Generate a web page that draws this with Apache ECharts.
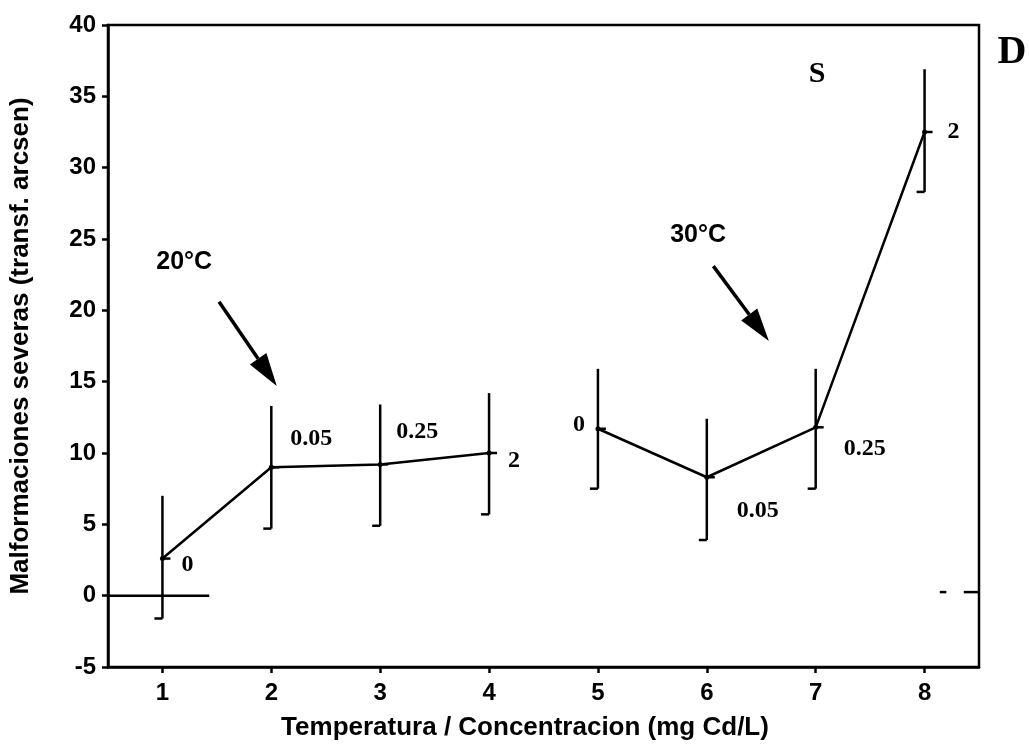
<!DOCTYPE html>
<html>
<head>
<meta charset="utf-8">
<style>
  html, body { margin: 0; padding: 0; background: #fff; }
  #chart { width: 1029px; height: 746px; }
</style>
<script src="https://cdn.jsdelivr.net/npm/echarts@6/dist/echarts.min.js"></script>
</head>
<body>
<div id="chart"></div>
<script>
// Treatment positions on the x axis (20 °C: 1-4, 30 °C: 5-8)
const positions = [1, 2, 3, 4, 5, 6, 7, 8];
// Mean of severe malformations (arcsine-transformed) and error-bar limits
const means = [2.6, 9.0, 9.2, 10.0, 11.7, 8.3, 11.8, 32.5];
const lows  = [-1.6, 4.7, 4.9, 5.7, 7.5, 3.9, 7.5, 28.3];
const highs = [7.0, 13.3, 13.4, 14.2, 15.9, 12.4, 15.9, 36.9];
// Cadmium concentration (mg Cd/L) written next to each mean
const doseLabels = ['0', '0.05', '0.25', '2', '0', '0.05', '0.25', '2'];
// Which temperature group each point belongs to
const group20 = [0, 1, 2, 3];
const group30 = [4, 5, 6, 7];
// Y tick settings
const yMin = -5, yMax = 40, yStep = 5;

// Arrow annotations (data coordinates) and their temperature captions
const arrowStart = [[1.52, 20.6], [6.06, 23.1]];
const arrowEnd   = [[2.05, 14.7], [6.57, 17.85]];
const arrowText  = ['20°C', '30°C'];
const arrowTextAt = [[1.20, 23.4], [5.92, 25.3]];

// Zero reference segments [x0, y0, x1, y1]
const refSegments = [[0.5, 0, 1.43, 0], [8.14, 0.25, 8.20, 0.25], [8.36, 0.25, 8.5, 0.25]];

// Pixel offsets of each concentration label from its mean
const doseLabelOffsets = [[25, 6], [40, -28], [37, -33], [25, 8], [-19, -4], [51, 34], [49, 21], [29, 0]];

const SANS = '"Liberation Sans", Arial, Helvetica, sans-serif';
const SERIF = '"Liberation Serif", "Times New Roman", serif';
const ink = '#000';

const chart = echarts.init(document.getElementById('chart'), null, { renderer: 'canvas' });

const lineStyle = { stroke: ink, lineWidth: 2.5 };

function meanLine(idx) {
  return {
    type: 'line',
    data: idx.map(i => [positions[i], means[i]]),
    symbol: 'circle',
    symbolSize: 5,
    itemStyle: { color: ink },
    lineStyle: { color: ink, width: 2.5 },
    silent: true,
    animation: false,
    z: 3
  };
}

const option = {
  animation: false,
  backgroundColor: '#fff',
  grid: {
    left: 108, right: 50, top: 25, bottom: 79,
    show: true, borderColor: ink, borderWidth: 2.5, backgroundColor: 'transparent'
  },
  xAxis: {
    type: 'value',
    min: 0.5,
    max: 8.5,
    name: 'Temperatura / Concentracion (mg Cd/L)',
    nameLocation: 'middle',
    nameGap: 48,
    nameTextStyle: { color: ink, fontFamily: SANS, fontWeight: 'bold', fontSize: 26, padding: [0, 37, 0, 0] },
    axisLine: { onZero: false, lineStyle: { color: ink, width: 2.5 } },
    axisTick: { show: true, length: 6, customValues: positions, lineStyle: { color: ink, width: 2.5 } },
    axisLabel: { customValues: positions, color: ink, fontFamily: SANS, fontWeight: 'bold', fontSize: 24, margin: 14 },
    splitLine: { show: false }
  },
  yAxis: {
    type: 'value',
    min: yMin,
    max: yMax,
    interval: yStep,
    name: 'Malformaciones severas (transf. arcsen)',
    nameLocation: 'middle',
    nameGap: 74,
    nameTextStyle: { color: ink, fontFamily: SANS, fontWeight: 'bold', fontSize: 26 },
    axisLine: { show: true, onZero: false, lineStyle: { color: ink, width: 2.5 } },
    axisTick: { show: true, length: 6, lineStyle: { color: ink, width: 2.5 } },
    axisLabel: { color: ink, fontFamily: SANS, fontWeight: 'bold', fontSize: 24, margin: 12 },
    splitLine: { show: false }
  },
  graphic: [
    { type: 'text', x: 1012, y: 53, style: { text: 'D', font: 'bold 40px ' + SERIF, fill: ink, align: 'center', verticalAlign: 'middle' } },
    { type: 'text', x: 817, y: 74, style: { text: 'S', font: 'bold 30px ' + SERIF, fill: ink, align: 'center', verticalAlign: 'middle' } }
  ],
  series: [
    meanLine(group20),
    meanLine(group30),
    {
      // Error bars: vertical range, left cap at the bottom, short tick at the mean
      type: 'custom',
      data: positions.map((x, i) => [x, means[i], lows[i], highs[i]]),
      clip: false,
      silent: true,
      z: 4,
      renderItem: function (params, api) {
        const x = api.value(0);
        const m = api.coord([x, api.value(1)]);
        const lo = api.coord([x, api.value(2)]);
        const hi = api.coord([x, api.value(3)]);
        const off = doseLabelOffsets[params.dataIndex];
        return {
          type: 'group',
          children: [
            { type: 'line', shape: { x1: hi[0], y1: hi[1], x2: lo[0], y2: lo[1] }, style: lineStyle },
            { type: 'line', shape: { x1: lo[0] - 8, y1: lo[1], x2: lo[0], y2: lo[1] }, style: lineStyle },
            { type: 'line', shape: { x1: m[0], y1: m[1], x2: m[0] + 8, y2: m[1] }, style: lineStyle },
            {
              type: 'text', x: m[0] + off[0], y: m[1] + off[1],
              style: { text: doseLabels[params.dataIndex], font: 'bold 24px ' + SERIF, fill: ink, align: 'center', verticalAlign: 'middle' }
            }
          ]
        };
      }
    },
    {
      // Zero reference segments
      type: 'custom',
      data: refSegments,
      clip: false,
      silent: true,
      renderItem: function (params, api) {
        const a = api.coord([api.value(0), api.value(1)]);
        const b = api.coord([api.value(2), api.value(3)]);
        return { type: 'line', shape: { x1: a[0], y1: a[1], x2: b[0], y2: b[1] }, style: lineStyle };
      }
    },
    {
      // Temperature arrows with captions
      type: 'custom',
      data: arrowStart.map((s, i) => [s[0], s[1], arrowEnd[i][0], arrowEnd[i][1], arrowTextAt[i][0], arrowTextAt[i][1]]),
      clip: false,
      silent: true,
      renderItem: function (params, api) {
        const a = api.coord([api.value(0), api.value(1)]);
        const b = api.coord([api.value(2), api.value(3)]);
        const t = api.coord([api.value(4), api.value(5)]);
        const dx = b[0] - a[0], dy = b[1] - a[1];
        const len = Math.sqrt(dx * dx + dy * dy);
        const ux = dx / len, uy = dy / len;
        const headLen = 33, half = 10;
        const bx = b[0] - ux * headLen, by = b[1] - uy * headLen;
        return {
          type: 'group',
          children: [
            { type: 'line', shape: { x1: a[0], y1: a[1], x2: bx, y2: by }, style: { stroke: ink, lineWidth: 3.5 } },
            {
              type: 'polygon',
              shape: { points: [[b[0], b[1]], [bx - uy * half, by + ux * half], [bx + uy * half, by - ux * half]] },
              style: { fill: ink }
            },
            {
              type: 'text', x: t[0], y: t[1],
              style: { text: arrowText[params.dataIndex], font: 'bold 25px ' + SANS, fill: ink, align: 'center', verticalAlign: 'middle' }
            }
          ]
        };
      }
    }
  ]
};

chart.setOption(option);
</script>
</body>
</html>
